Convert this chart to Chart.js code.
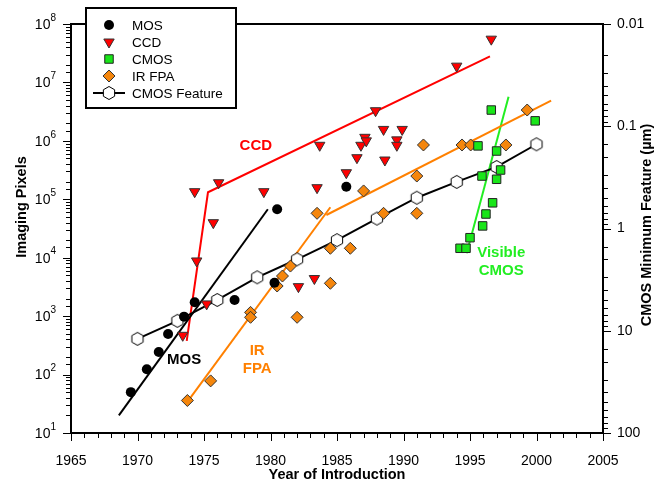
<!DOCTYPE html>
<html>
<head>
<title>Imaging Pixels vs Year</title>
<script src="https://cdn.jsdelivr.net/npm/chart.js"></script>
<style>
  body { margin: 0; background: #fff; }
  #chart { display: block; }
</style>
</head>
<body>
<canvas id="chart" width="665" height="483"></canvas>
<script>
// values: year of introduction and imaging pixels
const mosYears = [1969.5, 1970.7, 1971.6, 1972.3, 1973.5, 1974.3, 1977.3, 1980.3, 1980.5, 1985.7];
const mosPixels = [50, 123, 243, 494, 980, 1730, 1890, 3740, 67500, 164000];

const ccdYears = [1973.4, 1974.3, 1974.45, 1975.2, 1975.7, 1976.1, 1979.5, 1982.1, 1983.3, 1983.5,
                  1983.7, 1985.7, 1986.5, 1986.8, 1987.1, 1987.2, 1987.9, 1988.5, 1988.6, 1989.5,
                  1989.5, 1989.9, 1994.0, 1996.6];
const ccdPixels = [470, 135000, 8800, 1620, 39800, 192000, 135000, 3200, 4400, 158000,
                   840000, 285000, 515000, 840000, 1150000, 1000000, 3280000, 1570000, 470000, 1040000,
                   840000, 1570000, 19000000, 55000000];

const cmosYears = [1994.25, 1994.7, 1995.0, 1995.95, 1996.2, 1996.7, 1995.9, 1997.0, 1997.3, 1997.0,
                   1995.6, 1996.6, 1999.9];
const cmosPixels = [14500, 14500, 22000, 35000, 56000, 87000, 250000, 220000, 317000, 670000,
                    820000, 3370000, 2200000];

const irYears = [1973.75, 1975.5, 1978.5, 1978.5, 1980.5, 1980.9, 1981.5, 1982.0, 1983.5, 1984.5,
                 1984.5, 1986.0, 1987.0, 1988.5, 1991.0, 1991.0, 1991.5, 1994.4, 1995.05, 1997.7, 1999.3];
const irPixels = [36, 78, 1160, 955, 3280, 4860, 7200, 955, 57500, 3650,
                  14500, 14500, 139000, 57500, 57500, 250000, 850000, 850000, 850000, 850000, 3370000];

// CMOS minimum feature size (µm), right axis
const featureYears = [1970, 1973, 1976, 1979, 1982, 1985, 1988, 1991, 1994, 1997, 2000];
const featureMicrons = [12, 8, 5, 3, 2, 1.3, 0.8, 0.5, 0.35, 0.25, 0.15];

// trend lines drawn on the figure
const mosFitYears = [1968.6, 1979.8];
const mosFitPixels = [20, 67500];
const ccdFitYears = [1973.7, 1975.3, 1996.5];
const ccdFitPixels = [376, 132000, 28000000];
const irFitYears1 = [1973.75, 1984.5];
const irFitPixels1 = [34, 73000];
const irFitYears2 = [1984.2, 2001.1];
const irFitPixels2 = [53800, 4900000];
const visFitYears = [1994.75, 1997.9];
const visFitPixels = [11900, 5700000];

// text labels inside the plot (year, pixels)
const noteTexts = ['CCD', 'MOS', 'IR', 'FPA', 'Visible', 'CMOS'];
const noteYears = [1978.9, 1973.5, 1979.0, 1979.0, 1997.35, 1997.35];
const notePixels = [830000, 177, 256, 124, 12200, 6000];
const noteColors = ['#ff0000', '#000000', '#ff8000', '#ff8000', '#22ee22', '#22ee22'];

const xTicksMin = 1965, xTicksMax = 2005;

const FONT = '"Liberation Sans", Arial, sans-serif';

function pts(xs, ys) {
  return xs.map((x, i) => ({ x: x, y: ys[i] }));
}

function hexagon(r) {
  const c = document.createElement('canvas');
  const s = Math.ceil(r * 2 + 3);
  c.width = s; c.height = s;
  const g = c.getContext('2d');
  g.beginPath();
  for (let i = 0; i < 6; i++) {
    const a = Math.PI / 2 + i * Math.PI / 3;
    const px = s / 2 + r * Math.cos(a), py = s / 2 + r * Math.sin(a);
    if (i) g.lineTo(px, py); else g.moveTo(px, py);
  }
  g.closePath();
  g.fillStyle = '#fff'; g.fill();
  g.strokeStyle = '#000'; g.lineWidth = 1; g.stroke();
  return c;
}
const hex = hexagon(6.5);

function isDecade(v) {
  const l = Math.log10(v);
  return Math.abs(l - Math.round(l)) < 1e-6;
}

function fitLine(xs, ys, color) {
  return {
    data: pts(xs, ys), showLine: true, pointRadius: 0, borderColor: color,
    borderWidth: 2, tension: 0, yAxisID: 'y', order: 5
  };
}

const styles = {
  mos:  { pointStyle: 'circle', radius: 5, rotation: 0, fill: '#000', stroke: '#000', bw: 0 },
  ccd:  { pointStyle: 'triangle', radius: 6, rotation: 180, fill: '#ff0000', stroke: '#333', bw: 1 },
  cmos: { pointStyle: 'rect', radius: 6, rotation: 0, fill: '#19e619', stroke: '#222', bw: 1 },
  ir:   { pointStyle: 'rectRot', radius: 6, rotation: 0, fill: '#f5860c', stroke: '#333', bw: 1 }
};

function markers(xs, ys, st) {
  return {
    data: pts(xs, ys), showLine: false, pointStyle: st.pointStyle, pointRadius: st.radius,
    pointRotation: st.rotation, backgroundColor: st.fill, borderColor: st.stroke,
    borderWidth: st.bw, pointHoverRadius: st.radius, yAxisID: 'y', order: 2
  };
}

const decor = {
  id: 'decor',
  afterDatasetsDraw(chart) {
    const { ctx, scales } = chart;
    ctx.save();
    ctx.font = 'bold 15px ' + FONT;
    ctx.textAlign = 'center';
    ctx.textBaseline = 'middle';
    noteTexts.forEach((t, i) => {
      ctx.fillStyle = noteColors[i];
      ctx.fillText(t, scales.x.getPixelForValue(noteYears[i]), scales.y.getPixelForValue(notePixels[i]));
    });
    ctx.restore();
  },
  afterDraw(chart) {
    const { ctx, chartArea: a, scales } = chart;
    ctx.save();
    ctx.strokeStyle = '#000';
    ctx.fillStyle = '#000';

    // top frame line
    ctx.lineWidth = 2;
    ctx.beginPath();
    ctx.moveTo(a.left - 1, a.top);
    ctx.lineTo(a.right + 1, a.top);
    ctx.stroke();

    // tick marks
    ctx.lineWidth = 1;
    ctx.beginPath();
    scales.y.ticks.forEach(t => {
      const y = Math.round(scales.y.getPixelForValue(t.value)) + 0.5;
      const len = isDecade(t.value) ? 8 : 5;
      ctx.moveTo(a.left, y); ctx.lineTo(a.left - len, y);
    });
    scales.y2.ticks.forEach(t => {
      const y = Math.round(scales.y2.getPixelForValue(t.value)) + 0.5;
      const len = isDecade(t.value) ? 8 : 5;
      ctx.moveTo(a.right, y); ctx.lineTo(a.right + len, y);
    });
    scales.x.ticks.forEach(t => {
      const x = Math.round(scales.x.getPixelForValue(t.value)) + 0.5;
      const len = t.value % 5 === 0 ? 8 : 5;
      ctx.moveTo(x, a.bottom); ctx.lineTo(x, a.bottom + len);
    });
    ctx.stroke();

    // left tick labels 10^n
    ctx.textBaseline = 'middle';
    ctx.textAlign = 'right';
    scales.y.ticks.forEach(t => {
      if (!isDecade(t.value)) return;
      const y = scales.y.getPixelForValue(t.value);
      const exp = String(Math.round(Math.log10(t.value)));
      ctx.font = '10px ' + FONT;
      const ew = ctx.measureText(exp).width;
      ctx.fillText(exp, a.left - 15, y - 6);
      ctx.font = '14px ' + FONT;
      ctx.fillText('10', a.left - 15 - ew, y + 1);
    });

    // axis titles
    ctx.font = 'bold 14.5px ' + FONT;
    ctx.textAlign = 'center';
    ctx.fillText('Year of Introduction', (a.left + a.right) / 2, 475);
    ctx.save();
    ctx.translate(22, 207);
    ctx.rotate(-Math.PI / 2);
    ctx.fillText('Imaging Pixels', 0, 0);
    ctx.restore();
    ctx.save();
    ctx.translate(647, 225);
    ctx.rotate(-Math.PI / 2);
    ctx.fillText('CMOS Minimum Feature (\u00b5m)', 0, 0);
    ctx.restore();

    // legend box
    const lx = 86, ly = 8, lw = 150, lh = 100;
    ctx.fillStyle = '#fff';
    ctx.fillRect(lx, ly, lw, lh);
    ctx.lineWidth = 2;
    ctx.strokeRect(lx, ly, lw, lh);
    const entries = [
      ['MOS', styles.mos], ['CCD', styles.ccd], ['CMOS', styles.cmos], ['IR FPA', styles.ir], ['CMOS Feature', null]
    ];
    const mx = 109, tx = 132;
    entries.forEach((e, i) => {
      const y = 25 + i * 17;
      const st = e[1];
      if (st) {
        ctx.fillStyle = st.fill;
        ctx.strokeStyle = st.stroke;
        ctx.lineWidth = st.bw;
        Chart.helpers.drawPoint(ctx, {
          pointStyle: st.pointStyle, radius: st.radius, rotation: st.rotation, borderWidth: st.bw
        }, mx, y);
      } else {
        ctx.strokeStyle = '#000';
        ctx.lineWidth = 2;
        ctx.beginPath();
        ctx.moveTo(mx - 16, y); ctx.lineTo(mx + 16, y);
        ctx.stroke();
        ctx.drawImage(hex, mx - hex.width / 2, y - hex.height / 2);
      }
      ctx.fillStyle = '#000';
      ctx.font = '13.5px ' + FONT;
      ctx.textAlign = 'left';
      ctx.textBaseline = 'middle';
      ctx.fillText(e[0], tx, y + 1);
    });
    ctx.restore();
  }
};

const ctx = document.getElementById('chart').getContext('2d');
const chart = new Chart(ctx, {
  type: 'scatter',
  data: {
    datasets: [
      fitLine(mosFitYears, mosFitPixels, '#000000'),
      fitLine(ccdFitYears, ccdFitPixels, '#ff0000'),
      fitLine(irFitYears1, irFitPixels1, '#ff8000'),
      fitLine(irFitYears2, irFitPixels2, '#ff8000'),
      fitLine(visFitYears, visFitPixels, '#22ee22'),
      {
        label: 'CMOS Feature',
        data: pts(featureYears, featureMicrons), showLine: true, tension: 0,
        borderColor: '#000', borderWidth: 2, pointStyle: hex, yAxisID: 'y2', order: 4
      },
      Object.assign({ label: 'MOS' }, markers(mosYears, mosPixels, styles.mos)),
      Object.assign({ label: 'CCD' }, markers(ccdYears, ccdPixels, styles.ccd)),
      Object.assign({ label: 'CMOS' }, markers(cmosYears, cmosPixels, styles.cmos)),
      Object.assign({ label: 'IR FPA' }, markers(irYears, irPixels, styles.ir))
    ]
  },
  options: {
    responsive: false,
    animation: false,
    layout: { padding: { top: 24, left: 0, right: 0, bottom: 0 } },
    plugins: { legend: { display: false }, tooltip: { enabled: false } },
    scales: {
      x: {
        type: 'linear', min: xTicksMin, max: xTicksMax,
        grid: { display: false },
        border: { display: true, color: '#000', width: 2 },
        ticks: {
          stepSize: 1, autoSkip: false, maxRotation: 0, padding: 12,
          color: '#000', font: { family: FONT, size: 14 },
          callback: v => (v % 5 === 0 ? String(v) : '')
        },
        afterFit: s => { s.height = 50; }
      },
      y: {
        type: 'logarithmic', position: 'left', min: 10, max: 1e8,
        grid: { display: false },
        border: { display: true, color: '#000', width: 2 },
        ticks: { display: false, autoSkip: false },
        afterFit: s => { s.width = 71; }
      },
      y2: {
        type: 'logarithmic', position: 'right', min: 0.01, max: 100, reverse: true,
        grid: { display: false },
        border: { display: true, color: '#000', width: 2 },
        ticks: {
          autoSkip: false, padding: 6, color: '#000', font: { family: FONT, size: 14 },
          callback: v => (isDecade(v) ? String(Number(v.toPrecision(3))) : '')
        },
        afterFit: s => { s.width = 62; }
      }
    }
  },
  plugins: [decor]
});
</script>
</body>
</html>
